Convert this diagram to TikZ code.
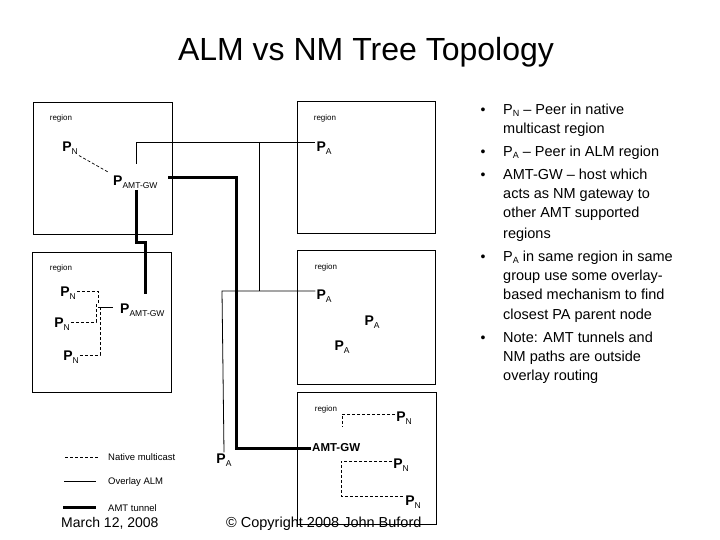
\documentclass[tikz,border=0pt]{standalone}
\usepackage{fontspec}
\setmainfont{Liberation Sans}
\newcommand{\peer}[1]{{\fontsize{14}{14}\selectfont\bfseries P}{\fontsize{8.5}{8.5}\selectfont\raisebox{-3pt}{#1}}}
\begin{document}
\begin{tikzpicture}[x=1pt,y=-1pt,
  box/.style={draw,line width=0.8pt},
  lbl/.style={font=\fontsize{8}{8}\selectfont,inner sep=0},
  pn/.style={inner sep=1pt},
  ov/.style={line width=0.8pt},
  nm/.style={line width=0.7pt,dash pattern=on 3pt off 2pt},
  tun/.style={line width=3pt},
  bl/.style={anchor=base west,inner sep=0,font=\fontsize{14.5}{14.5}\selectfont},
  small/.style={anchor=base west,inner sep=0,font=\fontsize{9.5}{10}\selectfont}]
\useasboundingbox (0,0) rectangle (720,540);
\node (title) at (366,52) {\fontsize{32}{32}\selectfont ALM vs NM Tree Topology};
% boxes
\draw[box] (33,102) rectangle (172,234);
\draw[box] (297,101) rectangle (435,233);
\draw[box] (32,252) rectangle (171,392);
\draw[box] (297,250) rectangle (435,384);
\draw[box] (297,392) rectangle (436,524);
\node[lbl] (r1) at (61,118) {region};
\node[lbl] (r2) at (325,118) {region};
\node[lbl] (r3) at (61,268) {region};
\node[lbl] (r4) at (326,267) {region};
\node[lbl] (r5) at (326,409) {region};
% peers
\node[pn] (pn1) at (70,148) {\peer{N}};
\node[pn,anchor=west] (gw1) at (112,182) {\peer{AMT-GW}};
\node[pn] (pa1) at (324,148) {\peer{A}};
\node[pn] (pn2) at (68,293) {\peer{N}};
\node[pn] (pn3) at (62,324) {\peer{N}};
\node[pn] (pn4) at (71,357) {\peer{N}};
\node[pn,anchor=west] (gw2) at (119,310) {\peer{AMT-GW}};
\node[pn] (pa2) at (324,296) {\peer{A}};
\node[pn] (pa3) at (372,322) {\peer{A}};
\node[pn] (pa4) at (342,347) {\peer{A}};
\node[pn] (pa5) at (224,460) {\peer{A}};
\node[pn] (pn5) at (404,418) {\peer{N}};
\node[pn] (pn6) at (401,465) {\peer{N}};
\node[pn] (pn7) at (413,502) {\peer{N}};
\node[inner sep=1pt,anchor=west] (gw3) at (311,448) {\fontsize{11.5}{11.5}\selectfont\bfseries AMT-GW};
% native multicast
\coordinate (pnend) at (108,172);
\draw[nm] (pn1.south east) -- (pnend);
\coordinate (j1) at (98,291);
\coordinate (j3) at (96,322);
\coordinate (j4) at (100,355);
\draw[nm] (j1 -| pn2.east) -- (j1) -- (98,303);
\draw[nm] (j3 -| pn3.east) -- (j3) -- (96,303);
\draw[nm] (j4 -| pn4.east) -- (j4) -- (100,307);
\draw[ov] (98,307) -- (113,307);
\coordinate (k1) at (342,414);
\coordinate (k2) at (341,461);
\coordinate (k3) at (341,496);
\draw[nm] (k1 -| pn5.west) -- (k1) -- (342,426);
\draw[nm] (k2 -| pn6.west) -- (k2) -- (k3) -- (k3 -| pn7.west);
% overlay
\coordinate (o1) at (136,142);
\coordinate (o2) at (259,142);
\coordinate (o3) at (259,291);
\coordinate (o4) at (222,291);
\draw[ov] (136,164) -- (o1) -- (o1 -| pa1.west);
\draw[ov] (o2) -- (o3);
\draw[ov] (o3 -| pa2.west) -- (o4) -- (pa5.north);
% tunnels
\coordinate (t1a) at (168,178);
\coordinate (t1b) at (236,178);
\coordinate (t1c) at (236,448);
\draw[tun] (t1a) -- (t1b) -- (t1c) -- (gw3.west);
\draw[tun] (136,190) -- (136,242) -- (145,242) -- (145,294);
% legend
\draw[nm] (65,457) -- (98,457);
\node[small] (l1) at (108,460) {Native multicast};
\draw[ov] (64,481) -- (96,481);
\node[small] (l2) at (108,484) {Overlay ALM};
\draw[tun] (63,507) -- (96,507);
\node[small] (l3) at (108,511) {AMT tunnel};
\node[anchor=base west,inner sep=0,font=\fontsize{14}{14}\selectfont] (date) at (61,527) {March 12, 2008};
\node[anchor=base west,inner sep=0,font=\fontsize{14.5}{14.5}\selectfont] (copy) at (226,527) {\textcopyright\ Copyright 2008 John Buford};
% bullets
\foreach \y in {115,157,180,261,342} \node[anchor=base,inner sep=0,font=\fontsize{14}{14}\selectfont] at (483,\y) {•};
\node[bl] (t1) at (503,115) {P\raisebox{-2pt}{\fontsize{9}{9}\selectfont N} -- Peer in native};
\node[bl] (t2) at (503,134) {multicast region};
\node[bl] (t3) at (503,157) {P\raisebox{-2pt}{\fontsize{9}{9}\selectfont A} -- Peer in ALM region};
\node[bl] (t4) at (503,180) {AMT-GW -- host which};
\node[bl] (t5) at (503,199) {acts as NM gateway to};
\node[bl] (t6) at (503,218) {other AMT supported};
\node[bl] (t7) at (503,238) {regions};
\node[bl] (t8) at (503,261) {P\raisebox{-2pt}{\fontsize{9}{9}\selectfont A} in same region in same};
\node[bl] (t9) at (503,280) {group use some overlay-};
\node[bl] (t10) at (503,299) {based mechanism to find};
\node[bl] (t11) at (503,319) {closest PA parent node};
\node[bl] (t12) at (503,342) {Note: AMT tunnels and};
\node[bl] (t13) at (503,361) {NM paths are outside};
\node[bl] (t14) at (503,380) {overlay routing};
\end{tikzpicture}
\end{document}
